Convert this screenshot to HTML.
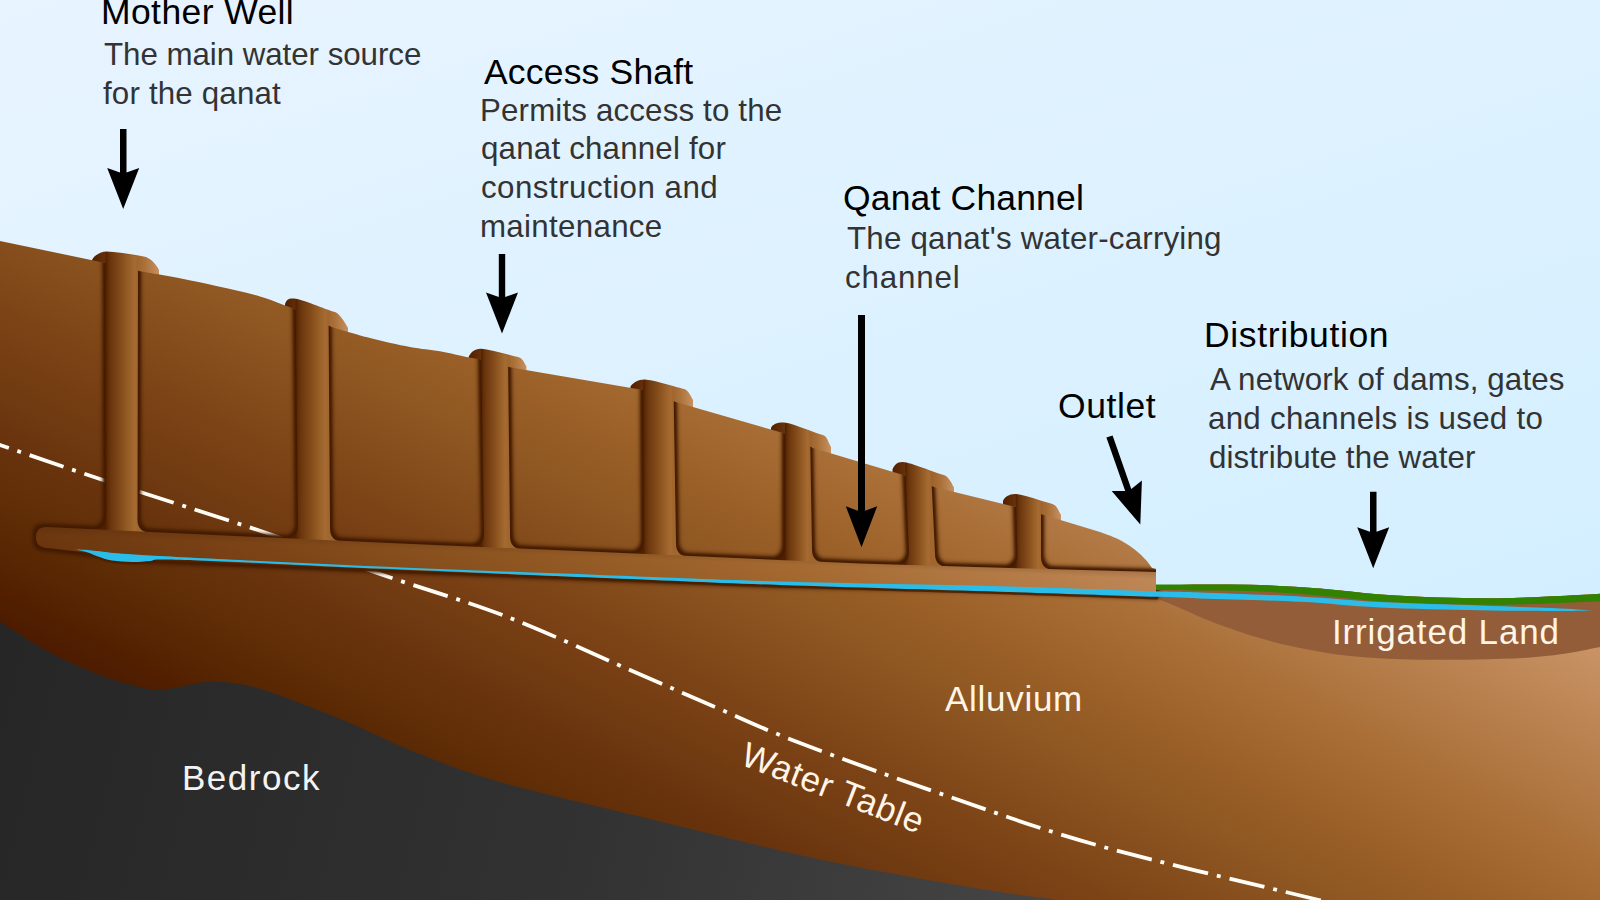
<!DOCTYPE html>
<html><head><meta charset="utf-8"><title>Qanat</title>
<style>
html,body{margin:0;padding:0;background:#dcedfb;overflow:hidden}
svg{display:block}
text{font-family:"Liberation Sans",sans-serif}
.h{font-size:35.5px;fill:#000}
.b{font-size:31.3px;fill:#333}
.w{font-size:35px;fill:#fff4e6}
</style></head><body>
<svg width="1600" height="900" viewBox="0 0 1600 900">
<defs>
<linearGradient id="sky" gradientUnits="userSpaceOnUse" x1="0" y1="0" x2="317" y2="1005">
<stop offset="0" stop-color="#e8f4ff"/><stop offset="1" stop-color="#d3efff"/></linearGradient>
<linearGradient id="gnd" gradientUnits="userSpaceOnUse" x1="0" y1="635.8" x2="345.9" y2="-12.8"><stop offset="0.000" stop-color="#4b1a00"/><stop offset="0.056" stop-color="#522000"/><stop offset="0.128" stop-color="#5b2a04"/><stop offset="0.192" stop-color="#633009"/><stop offset="0.240" stop-color="#69340d"/><stop offset="0.288" stop-color="#6f3a11"/><stop offset="0.336" stop-color="#753d12"/><stop offset="0.448" stop-color="#834b1a"/><stop offset="0.544" stop-color="#8f5722"/><stop offset="0.624" stop-color="#995f27"/><stop offset="0.704" stop-color="#a36930"/><stop offset="0.760" stop-color="#aa7038"/><stop offset="0.792" stop-color="#ae7540"/><stop offset="0.904" stop-color="#bc8452"/><stop offset="1.000" stop-color="#c89264"/></linearGradient>
<linearGradient id="upg" gradientUnits="userSpaceOnUse" x1="0" y1="635.8" x2="345.9" y2="-12.8"><stop offset="0.000" stop-color="#5a2904"/><stop offset="0.056" stop-color="#612e08"/><stop offset="0.128" stop-color="#6a350e"/><stop offset="0.192" stop-color="#723c12"/><stop offset="0.240" stop-color="#784014"/><stop offset="0.288" stop-color="#7e4617"/><stop offset="0.336" stop-color="#844c1b"/><stop offset="0.448" stop-color="#925924"/><stop offset="0.544" stop-color="#9e642c"/><stop offset="0.624" stop-color="#a86e36"/><stop offset="0.704" stop-color="#b27945"/><stop offset="0.760" stop-color="#b9814e"/><stop offset="0.792" stop-color="#bd8554"/><stop offset="0.904" stop-color="#cb9669"/><stop offset="1.000" stop-color="#d7a57d"/></linearGradient>
<linearGradient id="rock" gradientUnits="userSpaceOnUse" x1="0" y1="650" x2="1000" y2="900">
<stop offset="0" stop-color="#262626"/><stop offset="0.6" stop-color="#323232"/><stop offset="1" stop-color="#434343"/></linearGradient>
<linearGradient id="chan" gradientUnits="userSpaceOnUse" x1="0" y1="0" x2="1200" y2="0">
<stop offset="0" stop-color="#85501f"/><stop offset="0.5" stop-color="#9c612b"/><stop offset="1" stop-color="#ba7c42"/></linearGradient>
<filter id="glow" x="-5%" y="-5%" width="110%" height="110%" color-interpolation-filters="sRGB">
<feMorphology in="SourceAlpha" operator="dilate" radius="2.6" result="d"/>
<feGaussianBlur in="d" stdDeviation="1.9" result="bl"/>
<feFlood flood-color="#401800" flood-opacity="1" result="fc"/><feComposite in="fc" in2="bl" operator="in" result="soft"/>
<feMorphology in="SourceAlpha" operator="dilate" radius="2.0" result="d1"/>
<feGaussianBlur in="d1" stdDeviation="0.8" result="b1"/>
<feFlood flood-color="#451c00" flood-opacity="0.9" result="fc2"/><feComposite in="fc2" in2="b1" operator="in" result="crisp"/>
<feMerge><feMergeNode in="soft"/><feMergeNode in="crisp"/></feMerge>
</filter>
<linearGradient id="chsh" gradientUnits="userSpaceOnUse" x1="0" y1="524" x2="-1.04" y2="550">
<stop offset="0" stop-color="#3c1900" stop-opacity="0.22"/><stop offset="0.35" stop-color="#3c1900" stop-opacity="0.0"/><stop offset="1" stop-color="#3c1900" stop-opacity="0.0"/></linearGradient>
<clipPath id="gclip"><path d="M0 241L105.5 263L141.0 271.5C147.5 272.6 167.2 275.8 180.0 278.3C192.8 280.8 204.2 283.3 217.5 286.3C230.8 289.3 247.0 292.6 260.0 296.5C273.0 300.4 289.6 307.3 295.5 309.5L331.5 327.0C337.9 328.8 356.9 334.7 370.0 338.0C383.1 341.3 398.3 344.8 410.0 347.0C421.7 349.2 430.3 349.6 440.0 351.3C449.7 353.0 461.2 356.0 468.0 357.3C474.8 358.6 478.8 359.0 481.0 359.3L511.0 367.5L643.0 390.0L676.5 402.3L785.0 433.5L813.0 448.0L905.0 475.6L934.0 487.0L1015.6 507.0L1044.0 515.0L1100 532C1103.0 533.2 1112.3 536.2 1118.0 539.0C1123.7 541.8 1129.3 545.5 1134.0 549.0C1138.7 552.5 1143.0 556.8 1146.0 560.0C1149.0 563.2 1151.0 566.7 1152.0 568.0L1156 569L1156 586C1163.3 585.8 1182.7 584.7 1200.0 584.5C1217.3 584.3 1240.0 584.3 1260.0 585.0C1280.0 585.7 1299.8 586.9 1320.0 588.5C1340.2 590.1 1361.0 593.0 1381.0 594.5C1401.0 596.0 1420.2 596.9 1440.0 597.5C1459.8 598.1 1480.0 598.5 1500.0 598.2C1520.0 598.0 1543.3 596.7 1560.0 596.0C1576.7 595.3 1593.3 594.2 1600.0 593.8L1600 900L0 900Z"/></clipPath>
<linearGradient id="sh0" gradientUnits="userSpaceOnUse" x1="105.5" y1="0" x2="138.0" y2="0"><stop offset="0.000" stop-color="#501e00"/><stop offset="0.100" stop-color="#622f08"/><stop offset="0.200" stop-color="#6e3910"/><stop offset="0.450" stop-color="#824a19"/><stop offset="0.700" stop-color="#965d26"/><stop offset="0.900" stop-color="#a56b32"/><stop offset="1.000" stop-color="#a0662d"/></linearGradient>
<linearGradient id="mo0" gradientUnits="userSpaceOnUse" x1="92.0" y1="0" x2="159.0" y2="0"><stop offset="0.000" stop-color="#522000"/><stop offset="0.250" stop-color="#69340d"/><stop offset="0.500" stop-color="#8c5420"/><stop offset="0.780" stop-color="#aa7038"/><stop offset="1.000" stop-color="#c69061"/></linearGradient>
<linearGradient id="sh1" gradientUnits="userSpaceOnUse" x1="295.5" y1="0" x2="328.5" y2="0"><stop offset="0.000" stop-color="#501e00"/><stop offset="0.100" stop-color="#622f08"/><stop offset="0.200" stop-color="#6e3910"/><stop offset="0.450" stop-color="#824a19"/><stop offset="0.700" stop-color="#965d26"/><stop offset="0.900" stop-color="#a56b32"/><stop offset="1.000" stop-color="#a0662d"/></linearGradient>
<linearGradient id="mo1" gradientUnits="userSpaceOnUse" x1="285.0" y1="0" x2="348.0" y2="0"><stop offset="0.000" stop-color="#522000"/><stop offset="0.250" stop-color="#69340d"/><stop offset="0.500" stop-color="#8c5420"/><stop offset="0.780" stop-color="#aa7038"/><stop offset="1.000" stop-color="#c69061"/></linearGradient>
<linearGradient id="sh2" gradientUnits="userSpaceOnUse" x1="481.0" y1="0" x2="508.0" y2="0"><stop offset="0.000" stop-color="#501e00"/><stop offset="0.100" stop-color="#622f08"/><stop offset="0.200" stop-color="#6e3910"/><stop offset="0.450" stop-color="#824a19"/><stop offset="0.700" stop-color="#965d26"/><stop offset="0.900" stop-color="#a56b32"/><stop offset="1.000" stop-color="#a0662d"/></linearGradient>
<linearGradient id="mo2" gradientUnits="userSpaceOnUse" x1="468.7" y1="0" x2="526.4" y2="0"><stop offset="0.000" stop-color="#522000"/><stop offset="0.250" stop-color="#69340d"/><stop offset="0.500" stop-color="#8c5420"/><stop offset="0.780" stop-color="#aa7038"/><stop offset="1.000" stop-color="#c69061"/></linearGradient>
<linearGradient id="sh3" gradientUnits="userSpaceOnUse" x1="643.0" y1="0" x2="673.5" y2="0"><stop offset="0.000" stop-color="#501e00"/><stop offset="0.100" stop-color="#622f08"/><stop offset="0.200" stop-color="#6e3910"/><stop offset="0.450" stop-color="#824a19"/><stop offset="0.700" stop-color="#965d26"/><stop offset="0.900" stop-color="#a56b32"/><stop offset="1.000" stop-color="#a0662d"/></linearGradient>
<linearGradient id="mo3" gradientUnits="userSpaceOnUse" x1="630.4" y1="0" x2="693.0" y2="0"><stop offset="0.000" stop-color="#522000"/><stop offset="0.250" stop-color="#69340d"/><stop offset="0.500" stop-color="#8c5420"/><stop offset="0.780" stop-color="#aa7038"/><stop offset="1.000" stop-color="#c69061"/></linearGradient>
<linearGradient id="sh4" gradientUnits="userSpaceOnUse" x1="785.0" y1="0" x2="810.0" y2="0"><stop offset="0.000" stop-color="#501e00"/><stop offset="0.100" stop-color="#622f08"/><stop offset="0.200" stop-color="#6e3910"/><stop offset="0.450" stop-color="#824a19"/><stop offset="0.700" stop-color="#965d26"/><stop offset="0.900" stop-color="#a56b32"/><stop offset="1.000" stop-color="#a0662d"/></linearGradient>
<linearGradient id="mo4" gradientUnits="userSpaceOnUse" x1="771.0" y1="0" x2="831.0" y2="0"><stop offset="0.000" stop-color="#522000"/><stop offset="0.250" stop-color="#69340d"/><stop offset="0.500" stop-color="#8c5420"/><stop offset="0.780" stop-color="#aa7038"/><stop offset="1.000" stop-color="#c69061"/></linearGradient>
<linearGradient id="sh5" gradientUnits="userSpaceOnUse" x1="905.0" y1="0" x2="931.0" y2="0"><stop offset="0.000" stop-color="#501e00"/><stop offset="0.100" stop-color="#622f08"/><stop offset="0.200" stop-color="#6e3910"/><stop offset="0.450" stop-color="#824a19"/><stop offset="0.700" stop-color="#965d26"/><stop offset="0.900" stop-color="#a56b32"/><stop offset="1.000" stop-color="#a0662d"/></linearGradient>
<linearGradient id="mo5" gradientUnits="userSpaceOnUse" x1="892.5" y1="0" x2="954.0" y2="0"><stop offset="0.000" stop-color="#522000"/><stop offset="0.250" stop-color="#69340d"/><stop offset="0.500" stop-color="#8c5420"/><stop offset="0.780" stop-color="#aa7038"/><stop offset="1.000" stop-color="#c69061"/></linearGradient>
<linearGradient id="sh6" gradientUnits="userSpaceOnUse" x1="1015.6" y1="0" x2="1041.0" y2="0"><stop offset="0.000" stop-color="#501e00"/><stop offset="0.100" stop-color="#622f08"/><stop offset="0.200" stop-color="#6e3910"/><stop offset="0.450" stop-color="#824a19"/><stop offset="0.700" stop-color="#965d26"/><stop offset="0.900" stop-color="#a56b32"/><stop offset="1.000" stop-color="#a0662d"/></linearGradient>
<linearGradient id="mo6" gradientUnits="userSpaceOnUse" x1="1003.0" y1="0" x2="1061.0" y2="0"><stop offset="0.000" stop-color="#522000"/><stop offset="0.250" stop-color="#69340d"/><stop offset="0.500" stop-color="#8c5420"/><stop offset="0.780" stop-color="#aa7038"/><stop offset="1.000" stop-color="#c69061"/></linearGradient>
</defs>
<rect width="1600" height="900" fill="url(#sky)"/>
<path d="M92.0 266.0L92.0 260.0C93.5 256.0 101.0 251.2 107.0 251.5C115.0 251.9 136.0 254.5 146.0 257.0C150.0 258.6 155.0 262.5 159.0 270.0L159.0 284.0 L92.0 290.0 Z" fill="url(#mo0)"/>
<path d="M285.0 310.0L285.0 304.0C286.5 300.0 288.0 298.2 294.0 298.5C302.0 298.9 325.0 309.5 335.0 312.0C339.0 313.6 344.0 320.5 348.0 328.0L348.0 342.0 L285.0 334.0 Z" fill="url(#mo1)"/>
<path d="M468.7 362.8L468.7 356.8C470.2 352.8 475.0 348.4 481.0 348.7C489.0 349.1 508.0 354.5 518.0 357.0C522.0 358.6 522.4 359.0 526.4 366.5L526.4 380.5 L468.7 386.8 Z" fill="url(#mo2)"/>
<path d="M630.4 393.0L630.4 387.0C631.9 383.0 639.0 379.3 645.0 379.6C653.0 380.0 674.0 386.5 684.0 389.0C688.0 390.6 689.0 392.5 693.0 400.0L693.0 414.0 L630.4 417.0 Z" fill="url(#mo3)"/>
<path d="M771.0 434.0L771.0 428.0C772.5 424.0 778.0 422.2 784.0 422.5C792.0 422.9 813.0 432.5 823.0 435.0C827.0 436.6 827.0 439.5 831.0 447.0L831.0 461.0 L771.0 458.0 Z" fill="url(#mo4)"/>
<path d="M892.5 475.4L892.5 469.4C894.0 465.4 897.0 461.7 903.0 462.0C911.0 462.4 934.0 472.5 944.0 475.0C948.0 476.6 950.0 480.0 954.0 487.5L954.0 501.5 L892.5 499.4 Z" fill="url(#mo5)"/>
<path d="M1003.0 507.0L1003.0 501.0C1004.5 497.0 1009.6 493.7 1015.6 494.0C1023.6 494.4 1042.5 501.5 1052.5 504.0C1056.5 505.6 1057.0 507.5 1061.0 515.0L1061.0 529.0 L1003.0 531.0 Z" fill="url(#mo6)"/>
<path d="M0 241L105.5 263L141.0 271.5C147.5 272.6 167.2 275.8 180.0 278.3C192.8 280.8 204.2 283.3 217.5 286.3C230.8 289.3 247.0 292.6 260.0 296.5C273.0 300.4 289.6 307.3 295.5 309.5L331.5 327.0C337.9 328.8 356.9 334.7 370.0 338.0C383.1 341.3 398.3 344.8 410.0 347.0C421.7 349.2 430.3 349.6 440.0 351.3C449.7 353.0 461.2 356.0 468.0 357.3C474.8 358.6 478.8 359.0 481.0 359.3L511.0 367.5L643.0 390.0L676.5 402.3L785.0 433.5L813.0 448.0L905.0 475.6L934.0 487.0L1015.6 507.0L1044.0 515.0L1100 532C1103.0 533.2 1112.3 536.2 1118.0 539.0C1123.7 541.8 1129.3 545.5 1134.0 549.0C1138.7 552.5 1143.0 556.8 1146.0 560.0C1149.0 563.2 1151.0 566.7 1152.0 568.0L1156 569L1156 586C1163.3 585.8 1182.7 584.7 1200.0 584.5C1217.3 584.3 1240.0 584.3 1260.0 585.0C1280.0 585.7 1299.8 586.9 1320.0 588.5C1340.2 590.1 1361.0 593.0 1381.0 594.5C1401.0 596.0 1420.2 596.9 1440.0 597.5C1459.8 598.1 1480.0 598.5 1500.0 598.2C1520.0 598.0 1543.3 596.7 1560.0 596.0C1576.7 595.3 1593.3 594.2 1600.0 593.8L1600 900L0 900Z" fill="url(#gnd)"/>
<path d="M0 622C8.3 627.1 33.3 643.7 50.0 652.5C66.7 661.3 85.0 669.2 100.0 675.0C115.0 680.8 130.2 684.5 140.0 687.0C149.8 689.5 152.2 690.1 159.0 690.0C165.8 689.9 173.3 687.8 181.0 686.5C188.7 685.2 197.7 682.8 205.0 682.0C212.3 681.2 215.2 680.7 225.0 682.0C234.8 683.3 244.8 683.9 264.0 690.0C283.2 696.1 314.8 708.4 340.0 718.7C365.2 729.0 388.3 741.5 415.0 752.0C441.7 762.5 460.8 770.8 500.0 782.0C539.2 793.2 600.0 806.8 650.0 819.0C700.0 831.2 758.3 845.7 800.0 855.0C841.7 864.3 866.7 868.8 900.0 875.0C933.3 881.2 973.3 887.8 1000.0 892.0C1026.7 896.2 1050.0 898.7 1060.0 900.0L0 900Z" fill="url(#rock)"/>
<path d="M1156 586C1163.3 585.8 1182.7 584.7 1200.0 584.5C1217.3 584.3 1240.0 584.3 1260.0 585.0C1280.0 585.7 1299.8 586.9 1320.0 588.5C1340.2 590.1 1361.0 593.0 1381.0 594.5C1401.0 596.0 1420.2 596.9 1440.0 597.5C1459.8 598.1 1480.0 598.5 1500.0 598.2C1520.0 598.0 1543.3 596.7 1560.0 596.0C1576.7 595.3 1593.3 594.2 1600.0 593.8L1600 647C1594.8 648.0 1580.7 651.2 1569.0 653.0C1557.3 654.8 1545.7 656.4 1530.0 657.5C1514.3 658.6 1495.0 659.2 1475.0 659.5C1455.0 659.8 1430.8 660.1 1410.0 659.5C1389.2 658.9 1368.3 657.9 1350.0 656.0C1331.7 654.1 1315.7 651.2 1300.0 648.0C1284.3 644.8 1271.0 641.5 1256.0 637.0C1241.0 632.5 1222.7 625.8 1210.0 621.0C1197.3 616.2 1189.0 611.8 1180.0 608.0C1171.0 604.2 1160.0 599.7 1156.0 598.0Z" fill="#935d3a"/>
<path d="M-30.0 435.0C-25.0 436.7 -21.7 437.7 0.0 445.0C21.7 452.3 55.8 464.4 100.0 479.0C144.2 493.6 218.3 516.7 265.0 532.5C311.7 548.3 340.0 560.1 380.0 574.0C420.0 587.9 463.3 600.0 505.0 616.0C546.7 632.0 595.0 654.8 630.0 670.0C665.0 685.2 686.7 694.8 715.0 707.0C743.3 719.2 760.8 728.0 800.0 743.0C839.2 758.0 900.0 779.8 950.0 797.0C1000.0 814.2 1038.5 828.8 1100.0 846.0C1161.5 863.2 1275.7 889.3 1319.0 900.0C1362.3 910.7 1353.2 908.3 1360.0 910.0" fill="none" stroke="#fffdf5" stroke-width="3.8" stroke-dasharray="36 9 3.9 9" stroke-dashoffset="52.9"/>
<g clip-path="url(#gclip)"><g filter="url(#glow)">
<path d="M105.5 251.9L138.0 256.5L137.5 519.5Q137.5 532.5 150.5 532.5L150.5 540.5L93.0 537.8L93.0 529.8Q106.0 529.8 106.0 516.8Z"/>
<path d="M295.5 299.2L328.5 310.4L330.0 528.4Q330.0 541.4 343.0 541.4L343.0 549.4L285.0 546.7L285.0 538.7Q298.0 538.7 298.0 525.7Z"/>
<path d="M481.0 349.1L508.0 355.3L510.0 536.2Q510.0 549.2 523.0 549.2L523.0 557.2L471.0 555.0L471.0 547.0Q484.0 547.0 484.0 534.0Z"/>
<path d="M643.0 380.0L673.5 387.0L676.0 543.4Q676.0 556.4 689.0 556.4L689.0 564.4L631.0 561.9L631.0 553.9Q644.0 553.9 644.0 540.9Z"/>
<path d="M785.0 423.1L810.0 431.1L812.0 549.5Q812.0 562.5 825.0 562.5L825.0 570.5L772.0 568.1L772.0 560.1Q785.0 560.1 785.0 547.1Z"/>
<path d="M905.0 462.8L931.0 471.2L935.0 553.7Q935.0 566.7 948.0 566.7L948.0 574.7L896.0 573.1L896.0 565.1Q909.0 565.1 909.0 552.1Z"/>
<path d="M1015.6 494.4L1041.0 501.3L1041.0 556.7Q1041.0 569.7 1054.0 569.7L1054.0 577.7L1004.5 576.3L1004.5 568.3Q1017.5 568.3 1017.5 555.3Z"/>
<path d="M46 527.0L150.0 532.0L400.0 543.5L600.0 552.0L860.0 563.5L975.0 567.0L1156.0 572.0L1156 595.8L1000.0 589.2L780.0 584.5L600.0 578.0L380.0 569.5L150.0 560.0L50 548.2Q36 548.2 36 537.3Q36 527.0 46 527.0 Z"/>
</g></g>
<path d="M105.5 251.9L138.0 256.5L137.5 519.5Q137.5 532.5 150.5 532.5L150.5 540.5L93.0 537.8L93.0 529.8Q106.0 529.8 106.0 516.8Z" fill="url(#sh0)"/>
<path d="M295.5 299.2L328.5 310.4L330.0 528.4Q330.0 541.4 343.0 541.4L343.0 549.4L285.0 546.7L285.0 538.7Q298.0 538.7 298.0 525.7Z" fill="url(#sh1)"/>
<path d="M481.0 349.1L508.0 355.3L510.0 536.2Q510.0 549.2 523.0 549.2L523.0 557.2L471.0 555.0L471.0 547.0Q484.0 547.0 484.0 534.0Z" fill="url(#sh2)"/>
<path d="M643.0 380.0L673.5 387.0L676.0 543.4Q676.0 556.4 689.0 556.4L689.0 564.4L631.0 561.9L631.0 553.9Q644.0 553.9 644.0 540.9Z" fill="url(#sh3)"/>
<path d="M785.0 423.1L810.0 431.1L812.0 549.5Q812.0 562.5 825.0 562.5L825.0 570.5L772.0 568.1L772.0 560.1Q785.0 560.1 785.0 547.1Z" fill="url(#sh4)"/>
<path d="M905.0 462.8L931.0 471.2L935.0 553.7Q935.0 566.7 948.0 566.7L948.0 574.7L896.0 573.1L896.0 565.1Q909.0 565.1 909.0 552.1Z" fill="url(#sh5)"/>
<path d="M1015.6 494.4L1041.0 501.3L1041.0 556.7Q1041.0 569.7 1054.0 569.7L1054.0 577.7L1004.5 576.3L1004.5 568.3Q1017.5 568.3 1017.5 555.3Z" fill="url(#sh6)"/>
<path d="M46 527.0L150.0 532.0L400.0 543.5L600.0 552.0L860.0 563.5L975.0 567.0L1156.0 572.0L1156 595.8L1000.0 589.2L780.0 584.5L600.0 578.0L380.0 569.5L150.0 560.0L50 548.2Q36 548.2 36 537.3Q36 527.0 46 527.0 Z" fill="url(#upg)"/>
<path d="M46 527.0L150.0 532.0L400.0 543.5L600.0 552.0L860.0 563.5L975.0 567.0L1156.0 572.0L1156 595.8L1000.0 589.2L780.0 584.5L600.0 578.0L380.0 569.5L150.0 560.0L50 548.2Q36 548.2 36 537.3Q36 527.0 46 527.0 Z" fill="url(#chsh)"/>
<path d="M1156 584.5C1163.3 584.5 1182.7 584.4 1200.0 584.5C1217.3 584.6 1240.0 584.3 1260.0 585.0C1280.0 585.7 1299.8 586.9 1320.0 588.5C1340.2 590.1 1361.0 593.0 1381.0 594.5C1401.0 596.0 1420.2 596.9 1440.0 597.5C1459.8 598.1 1480.0 598.5 1500.0 598.2C1520.0 598.0 1543.3 596.7 1560.0 596.0C1576.7 595.3 1593.3 594.2 1600.0 593.8L1600 601.3C1593.3 601.6 1576.7 602.4 1560.0 603.0C1543.3 603.6 1520.0 604.6 1500.0 604.8C1480.0 605.0 1459.8 604.5 1440.0 604.0C1420.2 603.5 1401.0 602.9 1381.0 601.5C1361.0 600.1 1340.2 597.2 1320.0 595.5C1299.8 593.8 1280.0 592.3 1260.0 591.5C1240.0 590.7 1217.3 590.8 1200.0 590.5C1182.7 590.2 1163.3 590.1 1156.0 590.0Z" fill="#308200"/>
<clipPath id="wclip"><rect x="0" y="500" width="1158" height="120"/></clipPath>
<g clip-path="url(#wclip)"><path d="M75.0 549.3C77.8 549.5 79.5 549.5 92.0 550.5C104.5 551.5 102.0 552.8 150.0 555.5C198.0 558.2 305.0 563.2 380.0 566.5C455.0 569.8 533.3 572.5 600.0 575.0C666.7 577.5 713.3 579.6 780.0 581.5C846.7 583.4 937.3 584.6 1000.0 586.2C1062.7 587.8 1122.7 590.2 1156.0 591.3C1189.3 592.3 1176.0 591.6 1200.0 592.5C1224.0 593.4 1270.0 594.9 1300.0 596.5C1330.0 598.1 1350.0 600.5 1380.0 602.0C1410.0 603.5 1450.0 604.4 1480.0 605.5C1510.0 606.6 1541.3 607.7 1560.0 608.5C1578.7 609.3 1586.7 610.2 1592.0 610.5C1586.7 610.6 1578.7 611.0 1560.0 611.0C1541.3 611.0 1510.0 610.8 1480.0 610.2C1450.0 609.6 1410.0 608.9 1380.0 607.5C1350.0 606.1 1330.0 603.3 1300.0 601.8C1270.0 600.3 1224.0 599.3 1200.0 598.5C1176.0 597.7 1189.3 597.9 1156.0 596.8C1122.7 595.7 1062.7 593.7 1000.0 591.7C937.3 589.7 846.7 587.3 780.0 585.0C713.3 582.7 666.7 580.4 600.0 577.7C533.3 575.0 438.3 571.1 380.0 568.6C321.7 566.1 285.8 564.0 250.0 562.5C214.2 561.0 181.7 559.8 165.0 559.5C148.3 559.2 155.5 560.6 150.0 561.0C144.5 561.4 138.3 562.1 132.0 562.0C125.7 561.9 117.7 561.4 112.0 560.5C106.3 559.6 102.0 557.8 98.0 556.5C94.0 555.2 91.8 553.7 88.0 552.5C84.2 551.3 77.2 549.8 75.0 549.3Z" fill="#4a2000" fill-opacity="0.85" transform="translate(0,2.6)"/></g>
<path d="M75.0 549.3C77.8 549.5 79.5 549.5 92.0 550.5C104.5 551.5 102.0 552.8 150.0 555.5C198.0 558.2 305.0 563.2 380.0 566.5C455.0 569.8 533.3 572.5 600.0 575.0C666.7 577.5 713.3 579.6 780.0 581.5C846.7 583.4 937.3 584.6 1000.0 586.2C1062.7 587.8 1122.7 590.2 1156.0 591.3C1189.3 592.3 1176.0 591.6 1200.0 592.5C1224.0 593.4 1270.0 594.9 1300.0 596.5C1330.0 598.1 1350.0 600.5 1380.0 602.0C1410.0 603.5 1450.0 604.4 1480.0 605.5C1510.0 606.6 1541.3 607.7 1560.0 608.5C1578.7 609.3 1586.7 610.2 1592.0 610.5C1586.7 610.6 1578.7 611.0 1560.0 611.0C1541.3 611.0 1510.0 610.8 1480.0 610.2C1450.0 609.6 1410.0 608.9 1380.0 607.5C1350.0 606.1 1330.0 603.3 1300.0 601.8C1270.0 600.3 1224.0 599.3 1200.0 598.5C1176.0 597.7 1189.3 597.9 1156.0 596.8C1122.7 595.7 1062.7 593.7 1000.0 591.7C937.3 589.7 846.7 587.3 780.0 585.0C713.3 582.7 666.7 580.4 600.0 577.7C533.3 575.0 438.3 571.1 380.0 568.6C321.7 566.1 285.8 564.0 250.0 562.5C214.2 561.0 181.7 559.8 165.0 559.5C148.3 559.2 155.5 560.6 150.0 561.0C144.5 561.4 138.3 562.1 132.0 562.0C125.7 561.9 117.7 561.4 112.0 560.5C106.3 559.6 102.0 557.8 98.0 556.5C94.0 555.2 91.8 553.7 88.0 552.5C84.2 551.3 77.2 549.8 75.0 549.3Z" fill="#2bbdea"/>
<path d="M120.0 129.0L120.0 172.5L107.2 168.0L123.2 209.0L139.2 168.0L126.5 172.5L126.5 129.0Z" fill="#000"/>
<path d="M498.8 254.0L498.8 297.0L486.0 292.5L502.0 333.5L518.0 292.5L505.2 297.0L505.2 254.0Z" fill="#000"/>
<path d="M858.0 315.0L858.0 510.8L845.8 506.3L861.5 547.3L877.2 506.3L865.0 510.8L865.0 315.0Z" fill="#000"/>
<path d="M1106.4 437.6L1125.2 491.1L1111.7 491.1L1140.3 524.5L1141.9 480.5L1131.3 489.0L1112.6 435.4Z" fill="#000"/>
<path d="M1370.0 491.7L1370.0 531.8L1357.2 527.3L1373.2 568.3L1389.2 527.3L1376.5 531.8L1376.5 491.7Z" fill="#000"/>
<text class="h" x="101.00" y="24" letter-spacing="0.400">Mother Well</text>
<text class="b" x="104.00" y="65" letter-spacing="-0.050">The main water source</text>
<text class="b" x="103.00" y="103.5" letter-spacing="0.167">for the qanat</text>
<text class="h" x="484.00" y="84" letter-spacing="0.182">Access Shaft</text>
<text class="b" x="480.00" y="120.5" letter-spacing="0.150">Permits access to the</text>
<text class="b" x="481.00" y="158.5" letter-spacing="0.188">qanat channel for</text>
<text class="b" x="481.00" y="197.5" letter-spacing="0.467">construction and</text>
<text class="b" x="480.00" y="237" letter-spacing="0.300">maintenance</text>
<text class="h" x="843.00" y="210" letter-spacing="0.167">Qanat Channel</text>
<text class="b" x="847.00" y="249" letter-spacing="0.200">The qanat&#39;s water-carrying</text>
<text class="b" x="845.00" y="288" letter-spacing="0.833">channel</text>
<text class="h" x="1204.00" y="347" letter-spacing="0.636">Distribution</text>
<text class="b" x="1210.00" y="390" letter-spacing="0.130">A network of dams, gates</text>
<text class="b" x="1208.00" y="429" letter-spacing="0.273">and channels is used to</text>
<text class="b" x="1209.00" y="468" letter-spacing="0.105">distribute the water</text>
<text class="h" x="1058.00" y="418" letter-spacing="0.600">Outlet</text>
<text class="w" x="1332.00" y="643.5" letter-spacing="0.846">Irrigated Land</text>
<text class="w" x="945.00" y="711" letter-spacing="0.714">Alluvium</text>
<text class="w" x="182.00" y="790" letter-spacing="1.500" style="fill:#f3f3f3">Bedrock</text>
<text class="w" transform="translate(739,764) rotate(21.3)" letter-spacing="0.75">Water Table</text>
</svg></body></html>
